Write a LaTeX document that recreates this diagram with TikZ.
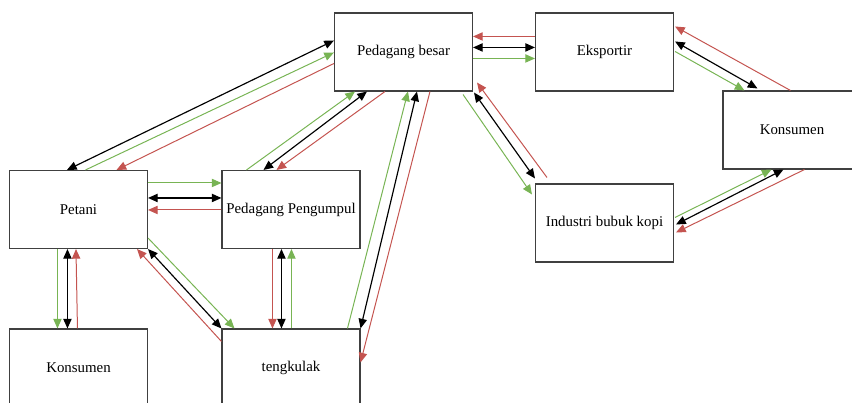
\documentclass[tikz,border=0pt]{standalone}
\usepackage{fontspec}
\setmainfont{Liberation Serif}
\usetikzlibrary{arrows.meta,calc}
\definecolor{flowgreen}{RGB}{120,180,84}
\definecolor{flowred}{RGB}{196,84,80}

\begin{document}
\begin{tikzpicture}[x=0.03cm,y=-0.03cm,>={Triangle[length=2.9mm,width=2.5mm]},
  font=\fontsize{12.7}{15}\selectfont,
  box/.style={draw=black!75,line width=0.9pt,minimum width=4.14cm,minimum height=2.34cm,inner sep=0pt},
  blk/.style={<->,black,line width=1pt},
  grn/.style={->,flowgreen,line width=0.85pt},
  rd/.style={->,flowred,line width=0.85pt}]
\useasboundingbox (0,0) rectangle (852,403);
\clip (0,0) rectangle (852,403);
% boxes
\node[box] (besar) at (403.5,52) {Pedagang besar};
\node[box] (eksportir) at (604.5,52) {Eksportir};
\node[box] (konsR) at (792,130) {Konsumen};
\node[box] (industri) at (604.5,223) {Industri bubuk kopi};
\node[box] (petani) at (78.5,209.5) {Petani};
\node[box] (pengumpul) at (291,209.5) {Pedagang Pengumpul};
\node[box] (konsL) at (78.5,368) {Konsumen};
\node[box] (tengkulak) at (291,368) {tengkulak};
% petani -- pedagang besar
\draw[blk] ($(petani.north west)+(58,0)$) -- ($(besar.north west)+(0,28)$);
\draw[grn] ($(petani.north west)+(76.5,0)$) -- ($(besar.north west)+(0,40)$);
\draw[rd] ($(besar.north west)+(0,51)$) -- ($(petani.north west)+(107.5,0)$);
% pengumpul -- pedagang besar
\draw[grn] ($(pengumpul.north west)+(25,0)$) -- ($(besar.south west)+(21,0)$);
\draw[blk] ($(pengumpul.north west)+(42,0)$) -- ($(besar.south west)+(33,0)$);
\draw[rd] ($(besar.south west)+(51,0)$) -- ($(pengumpul.north west)+(55,0)$);
% tengkulak -- pedagang besar
\draw[grn] ($(tengkulak.north west)+(126,0)$) -- ($(besar.south west)+(74,0)$);
\draw[blk] (tengkulak.north east) -- ($(besar.south west)+(83,0)$);
\draw[rd] ($(besar.south west)+(96,0)$) -- ($(tengkulak.north east)+(0,34)$);
% pedagang besar -- eksportir
\draw[rd] ($(eksportir.north west)+(0,24)$) -- ($(besar.north east)+(0,24)$);
\draw[blk] ($(besar.north east)+(0,35)$) -- ($(eksportir.north west)+(0,35)$);
\draw[grn] ($(besar.north east)+(0,46)$) -- ($(eksportir.north west)+(0,46)$);
% pedagang besar -- industri
\draw[rd] ($(industri.north west)+(12,-6)$) -- ($(besar.south east)+(4,-9)$);
\draw[blk] ($(besar.south east)+(1,1)$) -- ($(industri.north west)+(0,-5)$);
\draw[grn] ($(besar.south east)+(-10,3)$) -- ($(industri.north west)+(-3,11)$);
% eksportir -- konsumen
\draw[rd] ($(konsR.north west)+(68,0)$) -- ($(eksportir.north east)+(1,14)$);
\draw[blk] ($(eksportir.north east)+(1,29)$) -- ($(konsR.north west)+(35,-2)$);
\draw[grn] ($(eksportir.north east)+(1,39)$) -- ($(konsR.north west)+(22,0)$);
% industri -- konsumen
\draw[grn] ($(industri.north east)+(1,34)$) -- ($(konsR.south west)+(49,0)$);
\draw[blk] ($(industri.north east)+(2,41)$) -- ($(konsR.south west)+(61,0)$);
\draw[rd] ($(konsR.south west)+(82,0)$) -- ($(industri.north east)+(2,49)$);
% petani -- pengumpul
\draw[grn] ($(petani.north east)+(0,13)$) -- ($(pengumpul.north west)+(0,13)$);
\draw[blk] ($(petani.north east)+(0,28)$) -- ($(pengumpul.north west)+(0,28)$);
\draw[rd] ($(pengumpul.north west)+(0,40)$) -- ($(petani.north east)+(0,40)$);
% petani -- konsumen
\draw[grn] ($(petani.south west)+(48.5,0)$) -- ($(konsL.north west)+(48.5,0)$);
\draw[blk] ($(petani.south west)+(58.5,0)$) -- ($(konsL.north west)+(58.5,0)$);
\draw[rd] ($(konsL.north west)+(68.5,0)$) -- ($(petani.south west)+(67,0)$);
% petani -- tengkulak
\draw[grn] ($(petani.south east)+(0,-11)$) -- ($(tengkulak.north west)+(13,0)$);
\draw[blk] (petani.south east) -- (tengkulak.north west);
\draw[rd] ($(tengkulak.north west)+(0,13)$) -- ($(petani.south east)+(-11,0)$);
% pengumpul -- tengkulak
\draw[rd] ($(pengumpul.south west)+(51,0)$) -- ($(tengkulak.north west)+(51,0)$);
\draw[blk] ($(pengumpul.south west)+(60,0)$) -- ($(tengkulak.north west)+(60,0)$);
\draw[grn] ($(tengkulak.north west)+(70,0)$) -- ($(pengumpul.south west)+(70,0)$);
\end{tikzpicture}
\end{document}
